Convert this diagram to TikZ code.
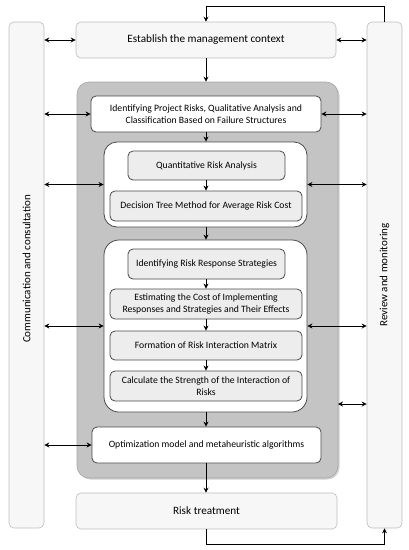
\documentclass[tikz,border=0pt]{standalone}
\usepackage{fontspec}
\setmainfont{Carlito}
\usetikzlibrary{arrows.meta,shadows}
\definecolor{outerfill}{HTML}{F7F7F7}
\definecolor{outerline}{HTML}{BDBDBD}
\definecolor{greyfill}{HTML}{C4C4C4}
\definecolor{greyline}{HTML}{A6A6A6}
\definecolor{innerfill}{HTML}{EDEDED}
\definecolor{innerline}{HTML}{4A4A4A}
\tikzset{
  outerbox/.style={draw=outerline, fill=outerfill, line width=0.6pt, rounded corners=5pt, inner sep=0pt, font=\fontsize{11.2}{13}\selectfont},
  greybox/.style={draw=greyline, fill=greyfill, line width=0.6pt, rounded corners=12pt, inner sep=0pt,
    drop shadow={opacity=0.35, shadow xshift=1.5pt, shadow yshift=-1.5pt}},
  groupbox/.style={draw=innerline, fill=white, line width=0.8pt, rounded corners=13pt, inner sep=0pt},
  whitebox/.style={draw=innerline, fill=white, line width=0.8pt, rounded corners=5pt, inner sep=0pt, align=center, font=\fontsize{9.7}{11.8}\selectfont},
  lightbox/.style={draw=innerline, fill=innerfill, line width=0.8pt, rounded corners=5pt, inner sep=0pt, align=center, font=\fontsize{9.7}{11.8}\selectfont},
  flow/.style={line width=0.9pt, -{Stealth[length=5pt,width=5pt]}},
  both/.style={line width=0.9pt, {Stealth[length=5pt,width=5pt]}-{Stealth[length=5pt,width=5pt]}},
}
\begin{document}
\begin{tikzpicture}[x=1pt,y=-1pt]
\useasboundingbox (0,0) rectangle (409,550);
% side bars
\node[outerbox, minimum width=35pt, minimum height=506pt] (lb) at (26.5,275) {};
\node[outerbox, minimum width=35pt, minimum height=506pt] (rb) at (384.5,275) {};
\node[rotate=90, font=\fontsize{11}{13}\selectfont] (lbt) at (26.5,269) {Communication and consultation};
\node[rotate=90, font=\fontsize{11}{13}\selectfont] (rbt) at (384.5,275) {Review and monitoring};
% top and bottom
\node[outerbox, minimum width=260pt, minimum height=36pt] (est) at (206,40) {Establish the management context};
\node[outerbox, minimum width=261pt, minimum height=36pt] (rt) at (206.5,511) {Risk treatment};
% grey container
\node[greybox, minimum width=261pt, minimum height=396pt] (grey) at (207.5,280) {};
\node[whitebox, minimum width=230pt, minimum height=36pt] (b1) at (206,114) {Identifying Project Risks, Qualitative Analysis and\\Classification Based on Failure Structures};
\node[groupbox, minimum width=203pt, minimum height=85pt] (g2) at (205.5,184.5) {};
\node[lightbox, minimum width=157pt, minimum height=29pt] (qra) at (206.5,165.5) {Quantitative Risk Analysis};
\node[lightbox, minimum width=192pt, minimum height=30pt] (dt) at (206,206) {Decision Tree Method for Average Risk Cost};
\node[groupbox, minimum width=203pt, minimum height=172pt, rounded corners=15pt] (g3) at (205.5,326) {};
\node[lightbox, minimum width=157pt, minimum height=30pt] (irs) at (206.5,264) {Identifying Risk Response Strategies};
\node[lightbox, minimum width=192pt, minimum height=30pt] (ecost) at (206,304) {Estimating the Cost of Implementing\\Responses and Strategies and Their Effects};
\node[lightbox, minimum width=192pt, minimum height=29pt] (form) at (206,345.5) {Formation of Risk Interaction Matrix};
\node[lightbox, minimum width=192pt, minimum height=30pt] (calc) at (206,386) {Calculate the Strength of the Interaction of\\Risks};
\node[whitebox, minimum width=229pt, minimum height=36pt] (opt) at (206.5,445) {Optimization model and metaheuristic algorithms};
% vertical flow
\draw[flow] (est.south) -- (est.south |- grey.north);
\draw[flow] (b1.south) -- (b1.south |- g2.north);
\draw[flow] (qra.south -| dt.north) -- (dt.north);
\draw[flow] (g2.south -| b1.south) -- (b1.south |- g3.north);
\draw[flow] (irs.south -| ecost.north) -- (ecost.north);
\draw[flow] (ecost.south) -- (form.north);
\draw[flow] (form.south) -- (calc.north);
\draw[flow] (g3.south -| b1.south) -- (b1.south |- opt.north);
\draw[flow] (opt.south -| b1.south) -- (b1.south |- rt.north);
% feedback loops
\draw[flow] (rb.north) -- ++(0,-15) -| (est.north);
\draw[flow] (rt.south -| est.south) -- ++(0,15) -| (rb.south);
% side connectors
\draw[both] (lb.east |- est.west) -- (est.west);
\draw[both] (est.east) -- (rb.west |- est.east);
\draw[both] (lb.east |- b1.west) -- (b1.west);
\draw[both] (b1.east) -- (rb.west |- b1.east);
\draw[both] (lb.east |- g2.west) -- (g2.west);
\draw[both] (g2.east) -- (rb.west |- g2.east);
\draw[both] (lb.east |- g3.west) -- (g3.west);
\draw[both] (g3.east) -- (rb.west |- g3.east);
\draw[both] (lb.east |- opt.west) -- (opt.west);
\coordinate (gx) at (338,404);
\draw[both] (gx) -- (rb.west |- gx);
\end{tikzpicture}
\end{document}
